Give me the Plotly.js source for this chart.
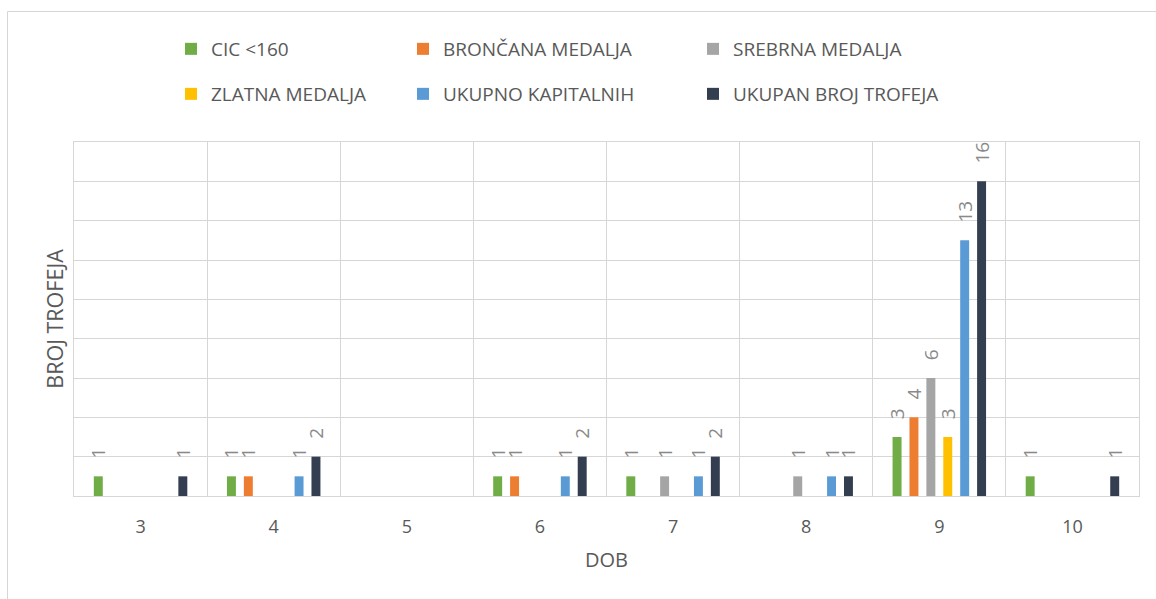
<!DOCTYPE html>
<html>
<head>
<meta charset="utf-8">
<script src="https://cdn.plot.ly/plotly-3.0.1.min.js"></script>
<style>
  html, body { margin: 0; padding: 0; background: #fff; }
  #chart { width: 1156px; height: 599px; }
</style>
</head>
<body>
<div id="chart"></div>
<script>
// ---- data ----
const categories = ['3', '4', '5', '6', '7', '8', '9', '10'];
const seriesNames = ['CIC <160', 'BRONČANA MEDALJA', 'SREBRNA MEDALJA', 'ZLATNA MEDALJA', 'UKUPNO KAPITALNIH', 'UKUPAN BROJ TROFEJA'];
const cic      = [1, 1, 0, 1, 1, 0, 3, 1];
const broncana = [0, 1, 0, 1, 0, 0, 4, 0];
const srebrna  = [0, 0, 0, 0, 1, 1, 6, 0];
const zlatna   = [0, 0, 0, 0, 0, 0, 3, 0];
const kapital  = [0, 1, 0, 1, 1, 1, 13, 0];
const ukupno   = [1, 2, 0, 2, 2, 1, 16, 1];
const seriesValues = [cic, broncana, srebrna, zlatna, kapital, ukupno];
const colors = ['#70AD47', '#ED7D31', '#A5A5A5', '#FFC000', '#5B9BD5', '#333F50'];

// ---- layout geometry (pixels) ----
const W = 1156, H = 599;
const M = { l: 74, r: 17, t: 142, b: 103 };
const PW = W - M.l - M.r, PH = H - M.t - M.b;
const px2x = p => (p - M.l) / PW;
const px2y = p => (H - M.b - p) / PH;
const FONT = 'Open Sans, Noto Sans, sans-serif';
const GRID = '#d6d6d6';

// legend slots: [left px, center y px]
const legendSlots = [[171, 49], [403, 49], [693, 49], [171, 94], [403, 94], [693, 94]];

const pad = '\u00a0\u00a0\u00a0';
const traces = seriesValues.map((vals, i) => ({
  type: 'bar',
  name: seriesNames[i],
  x: categories,
  y: vals,
  marker: { color: colors[i], line: { width: 0 } },
  text: vals.map(v => v ? pad + String(v) : ''),
  textposition: 'outside',
  textangle: -90,
  constraintext: 'none',
  cliponaxis: false,
  textfont: { family: FONT, size: 19, color: '#898989' },
  hoverinfo: 'none',
  showlegend: true,
  legend: i === 0 ? 'legend' : 'legend' + (i + 1)
}));

const layout = {
  width: W, height: H,
  margin: M,
  showlegend: true,
  paper_bgcolor: '#ffffff',
  plot_bgcolor: '#ffffff',
  barmode: 'group',
  bargap: 0.238,
  bargroupgap: 0.47,
  font: { family: FONT, color: '#595959' },
  xaxis: {
    type: 'category',
    tickson: 'boundaries',
    showgrid: true,
    gridcolor: GRID,
    gridwidth: 1,
    showline: true,
    linecolor: GRID,
    linewidth: 1,
    mirror: true,
    ticks: '',
    ticklabelstandoff: 14,
    tickfont: { family: FONT, size: 18, color: '#595959' },
    title: { text: 'DOB', font: { family: FONT, size: 20, color: '#595959' }, standoff: 16 },
    automargin: false,
    fixedrange: true
  },
  yaxis: {
    range: [0, 18],
    tick0: 0,
    dtick: 2,
    showticklabels: false,
    ticks: '',
    showgrid: true,
    gridcolor: GRID,
    gridwidth: 1,
    zeroline: false,
    showline: true,
    linecolor: GRID,
    linewidth: 1,
    mirror: true,
    title: { text: 'BROJ TROFEJA', font: { family: FONT, size: 21.5, color: '#595959' }, standoff: 3 },
    automargin: false,
    fixedrange: true
  },
  shapes: [{
    type: 'path', xref: 'paper', yref: 'paper',
    path: 'M ' + px2x(7.5) + ' ' + px2y(H + 5) + ' L ' + px2x(7.5) + ' ' + px2y(11.5) + ' L ' + px2x(W + 5) + ' ' + px2y(11.5),
    line: { color: GRID, width: 1 }
  }]
};

seriesNames.forEach((name, k) => {
  const key = k === 0 ? 'legend' : 'legend' + (k + 1);
  const [lx, ly] = legendSlots[k];
  layout[key] = {
    x: px2x(lx), y: px2y(ly),
    xanchor: 'left', yanchor: 'middle',
    orientation: 'v',
    bgcolor: 'rgba(0,0,0,0)',
    borderwidth: 0,
    font: { family: FONT, size: 19, color: '#595959' },
    itemclick: false, itemdoubleclick: false
  };
});

Plotly.newPlot('chart', traces, layout, { displayModeBar: false, staticPlot: true });
</script>
</body>
</html>
